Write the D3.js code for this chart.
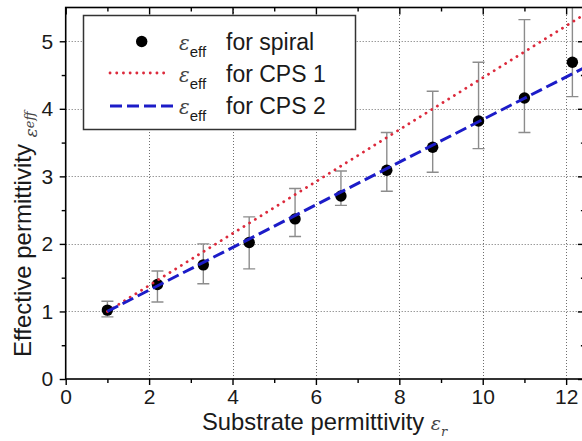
<!DOCTYPE html>
<html><head><meta charset="utf-8">
<script src="https://cdn.jsdelivr.net/npm/d3@7"></script>
<style>html,body{margin:0;padding:0;background:#fff;overflow:hidden}</style>
</head><body>
<svg id="c" width="582" height="441"></svg>
<script>
// ---- data ----
const epsR      = [1.0, 2.2, 3.3, 4.4, 5.5, 6.6, 7.7, 8.8, 9.9, 11.0, 12.15];
const effSpiral = [1.02, 1.40, 1.69, 2.02, 2.37, 2.71, 3.09, 3.43, 3.82, 4.16, 4.69];
const errLow    = [0.92, 1.14, 1.41, 1.63, 2.11, 2.57, 2.78, 3.06, 3.41, 3.65, 4.18];
const errHigh   = [1.15, 1.60, 2.00, 2.40, 2.82, 3.08, 3.65, 4.26, 4.69, 5.32, 5.90];
const cps1X = [1, 12.5];
const cps1Y = [1, 5.42];
const cps2X = [1, 12.5];
const cps2Y = [1, 4.63];
const xMajor = [0, 2, 4, 6, 8, 10, 12];
const xMinor = [1, 3, 5, 7, 9, 11];
const yMajor = [0, 1, 2, 3, 4, 5];
const yMinor = [0.5, 1.5, 2.5, 3.5, 4.5];
const xGrid = [2, 4, 6, 8, 10, 12];
const yGrid = [1, 2, 3, 4, 5];
const legendLabels = ["for spiral", "for CPS 1", "for CPS 2"];

const svg = d3.select("#c");
const FONT = "'Liberation Sans', Arial, sans-serif";
const SERIF = "'DejaVu Serif', 'Liberation Serif', serif";
const x = d3.scaleLinear().domain([0, 12.45]).range([65.7, 584.9]);
const y = d3.scaleLinear().domain([0, 5.5]).range([379, 7.5]);
const [x0, x1] = x.range(), [y0, y1] = y.range();

svg.append("defs").append("clipPath").attr("id", "plot")
  .append("rect").attr("x", x0).attr("y", y1).attr("width", x1 - x0).attr("height", y0 - y1);

// grid
const grid = svg.append("g").attr("stroke", "#6e6e6e").attr("stroke-width", 1).attr("stroke-dasharray", "1,2");
grid.selectAll(".gx").data(xGrid).join("line")
  .attr("x1", d => Math.round(x(d)) + 0.5).attr("x2", d => Math.round(x(d)) + 0.5).attr("y1", y0).attr("y2", y1);
grid.selectAll(".gy").data(yGrid).join("line")
  .attr("y1", d => Math.round(y(d)) + 0.5).attr("y2", d => Math.round(y(d)) + 0.5).attr("x1", x0).attr("x2", x1);

const plot = svg.append("g").attr("clip-path", "url(#plot)");

// error bars
const pts = epsR.map((e, i) => ({ e, v: effSpiral[i], lo: errLow[i], hi: errHigh[i] }));
const eb = plot.append("g").attr("stroke", "#8c8c8c").attr("stroke-width", 1.4).attr("fill", "none");
eb.selectAll(".v").data(pts).join("line")
  .attr("x1", d => x(d.e)).attr("x2", d => x(d.e)).attr("y1", d => y(d.lo)).attr("y2", d => y(d.hi));
eb.selectAll(".lo").data(pts).join("line")
  .attr("x1", d => x(d.e) - 6).attr("x2", d => x(d.e) + 6).attr("y1", d => y(d.lo)).attr("y2", d => y(d.lo));
eb.selectAll(".hi").data(pts).join("line")
  .attr("x1", d => x(d.e) - 6).attr("x2", d => x(d.e) + 6).attr("y1", d => y(d.hi)).attr("y2", d => y(d.hi));

// points
plot.append("g").selectAll("circle").data(pts).join("circle")
  .attr("cx", d => x(d.e)).attr("cy", d => y(d.v)).attr("r", 5.7).attr("fill", "#000");

// lines
const line = d3.line().x(d => x(d[0])).y(d => y(d[1]));
plot.append("path").datum(cps1X.map((v, i) => [v, cps1Y[i]])).attr("d", line)
  .attr("fill", "none").attr("stroke", "#dc2a3c").attr("stroke-width", 2.8)
  .attr("stroke-linecap", "round").attr("stroke-dasharray", "0.1,6.6");
plot.append("path").datum(cps2X.map((v, i) => [v, cps2Y[i]])).attr("d", line)
  .attr("fill", "none").attr("stroke", "#1c1cc8").attr("stroke-width", 3)
  .attr("stroke-dasharray", "12,5");

// axes
function styleAxis(g) {
  g.selectAll("text").attr("font-family", FONT).attr("font-size", 21).attr("fill", "#1a1a1a");
  g.selectAll("line").attr("stroke", "#000").attr("stroke-width", 1.4);
  g.select(".domain").remove();
}
svg.append("g").attr("transform", `translate(0,${y0})`)
  .call(d3.axisBottom(x).tickValues(xMajor).tickSize(6).tickPadding(4).tickFormat(d3.format("d"))).call(styleAxis);
svg.append("g").attr("transform", `translate(0,${y0})`)
  .call(d3.axisBottom(x).tickValues(xMinor).tickSize(4).tickFormat("")).call(styleAxis);
svg.append("g").attr("transform", `translate(${x0},0)`)
  .call(d3.axisLeft(y).tickValues(yMajor).tickSize(6).tickPadding(6.5).tickFormat(d3.format("d"))).call(styleAxis);
svg.append("g").attr("transform", `translate(${x0},0)`)
  .call(d3.axisLeft(y).tickValues(yMinor).tickSize(4).tickFormat("")).call(styleAxis);
svg.append("g").attr("transform", `translate(0,${y1})`)
  .call(d3.axisTop(x).tickValues(xMajor).tickSizeInner(-7).tickSizeOuter(0).tickFormat("")).call(styleAxis);
svg.append("g").attr("transform", `translate(0,${y1})`)
  .call(d3.axisTop(x).tickValues(xMinor).tickSizeInner(-4).tickSizeOuter(0).tickFormat("")).call(styleAxis);
svg.append("g").attr("transform", `translate(${x1},0)`)
  .call(d3.axisRight(y).tickValues(yMajor).tickSizeInner(-7).tickSizeOuter(0).tickFormat("")).call(styleAxis);
svg.append("g").attr("transform", `translate(${x1},0)`)
  .call(d3.axisRight(y).tickValues(yMinor).tickSizeInner(-4).tickSizeOuter(0).tickFormat("")).call(styleAxis);

// frame
svg.append("rect").attr("x", x0).attr("y", y1).attr("width", x1 - x0).attr("height", y0 - y1)
  .attr("fill", "none").attr("stroke", "#000").attr("stroke-width", 1.6);

// legend
const lg = svg.append("g");
lg.append("rect").attr("x", 83.5).attr("y", 15.5).attr("width", 272).attr("height", 114)
  .attr("fill", "#fff").attr("stroke", "#333").attr("stroke-width", 1.5);
const rowsY = [50, 82, 114];
lg.append("circle").attr("cx", 141.7).attr("cy", rowsY[0] - 8.5).attr("r", 5.7).attr("fill", "#000");
lg.append("line").attr("x1", 110).attr("x2", 168).attr("y1", rowsY[1] - 9).attr("y2", rowsY[1] - 9)
  .attr("stroke", "#dc2a3c").attr("stroke-width", 2.8).attr("stroke-linecap", "round").attr("stroke-dasharray", "0.1,6.6");
lg.append("line").attr("x1", 110).attr("x2", 174).attr("y1", rowsY[2] - 8).attr("y2", rowsY[2] - 8)
  .attr("stroke", "#1c1cc8").attr("stroke-width", 3).attr("stroke-dasharray", "12,5");
legendLabels.forEach((lab, i) => {
  const t = lg.append("text").attr("x", 179).attr("y", rowsY[i]).attr("fill", "#1a1a1a");
  t.append("tspan").attr("font-family", SERIF).attr("font-style", "italic")
    .attr("font-size", 20).attr("fill", "#444").text("ε");
  t.append("tspan").attr("font-family", FONT).attr("font-size", 15).attr("dy", 7).text("eff");
  lg.append("text").attr("x", 226).attr("y", rowsY[i]).attr("font-family", FONT).attr("font-size", 23)
    .attr("fill", "#1a1a1a").text(lab);
});

// axis titles
const xt = svg.append("text").attr("x", 202).attr("y", 430).attr("font-family", FONT).attr("font-size", 23.8).attr("fill", "#1a1a1a");
xt.append("tspan").text("Substrate permittivity ");
xt.append("tspan").attr("font-family", SERIF).attr("font-style", "italic").attr("font-size", 19).attr("fill", "#444").text("ε");
xt.append("tspan").attr("font-family", SERIF).attr("font-style", "italic").attr("font-size", 13).attr("dy", 6).attr("fill", "#444").text("r");

const yt = svg.append("text").attr("transform", "translate(31,357) rotate(-90)")
  .attr("font-family", FONT).attr("font-size", 24).attr("fill", "#1a1a1a");
yt.append("tspan").text("Effective permittivity ");
yt.append("tspan").attr("font-family", SERIF).attr("font-style", "italic").attr("font-size", 17).attr("dy", 6).attr("fill", "#444").text("ε");
yt.append("tspan").attr("font-family", SERIF).attr("font-style", "italic").attr("font-size", 13).attr("dy", -3).attr("fill", "#444").text("eff");
</script>
</body></html>
